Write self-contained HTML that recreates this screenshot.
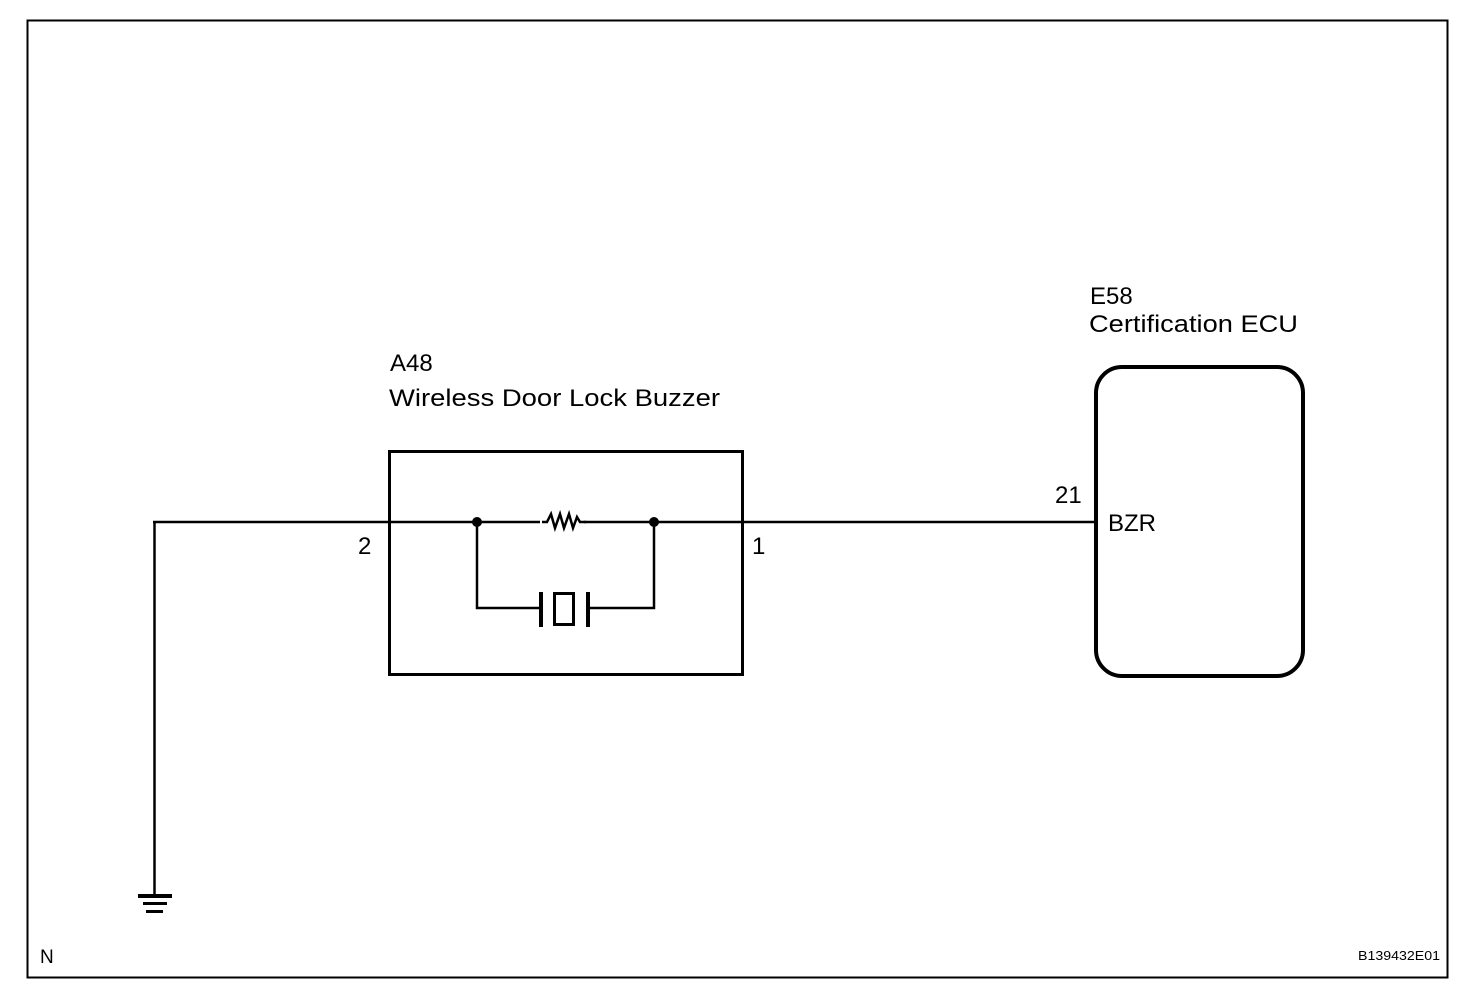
<!DOCTYPE html>
<html><head><meta charset="utf-8"><style>
html,body{margin:0;padding:0;background:#fff;}
svg{display:block;}
text{font-family:"Liberation Sans",Arial,sans-serif;fill:#000;}
</style></head><body>
<svg width="1472" height="1000" viewBox="0 0 1472 1000" xmlns="http://www.w3.org/2000/svg">
<rect x="27.5" y="20.5" width="1420" height="957" fill="none" stroke="#000" stroke-width="2"/>
<!-- main wire -->
<line x1="153" y1="522" x2="1096" y2="522" stroke="#000" stroke-width="2.5"/>
<line x1="154.5" y1="521" x2="154.5" y2="896" stroke="#000" stroke-width="2.5"/>
<!-- ground -->
<rect x="138" y="894" width="34" height="4" fill="#000"/>
<rect x="143" y="902" width="24" height="3" fill="#000"/>
<rect x="146" y="910" width="17" height="3" fill="#000"/>
<!-- buzzer box -->
<rect x="389.5" y="451.5" width="353" height="223" fill="none" stroke="#000" stroke-width="3"/>
<rect x="540" y="512" width="44" height="20" fill="#fff"/>
<polyline points="542,522 547,522 551,514 555,528 560,514 564,528 569,514 573,528 577,517 580,522 586,522" fill="none" stroke="#000" stroke-width="2.5" stroke-linejoin="miter"/>
<circle cx="477" cy="522" r="5" fill="#000"/>
<circle cx="654" cy="522" r="5" fill="#000"/>
<polyline points="477,522 477,608 541,608" fill="none" stroke="#000" stroke-width="2.5"/>
<polyline points="654,522 654,608 588,608" fill="none" stroke="#000" stroke-width="2.5"/>
<rect x="539" y="592" width="4" height="35" fill="#000"/>
<rect x="586" y="592" width="4" height="35" fill="#000"/>
<rect x="554.5" y="593.5" width="19" height="31" fill="none" stroke="#000" stroke-width="3"/>
<!-- ECU -->
<rect x="1096" y="367" width="207" height="309" rx="26" ry="26" fill="none" stroke="#000" stroke-width="4"/>
<!-- labels -->
<text x="1090" y="304" font-size="24">E58</text>
<text x="1089" y="332" font-size="24" textLength="209" lengthAdjust="spacingAndGlyphs">Certification ECU</text>
<text x="390" y="371" font-size="24">A48</text>
<text x="389" y="406" font-size="24" textLength="331" lengthAdjust="spacingAndGlyphs">Wireless Door Lock Buzzer</text>
<text x="1055" y="503" font-size="24">21</text>
<text x="1108" y="531" font-size="24">BZR</text>
<text x="358" y="554" font-size="24">2</text>
<text x="752" y="554" font-size="24">1</text>
<text x="40" y="963" font-size="19">N</text>
<text x="1358" y="960" font-size="13" textLength="82" lengthAdjust="spacingAndGlyphs">B139432E01</text>
</svg>
</body></html>
